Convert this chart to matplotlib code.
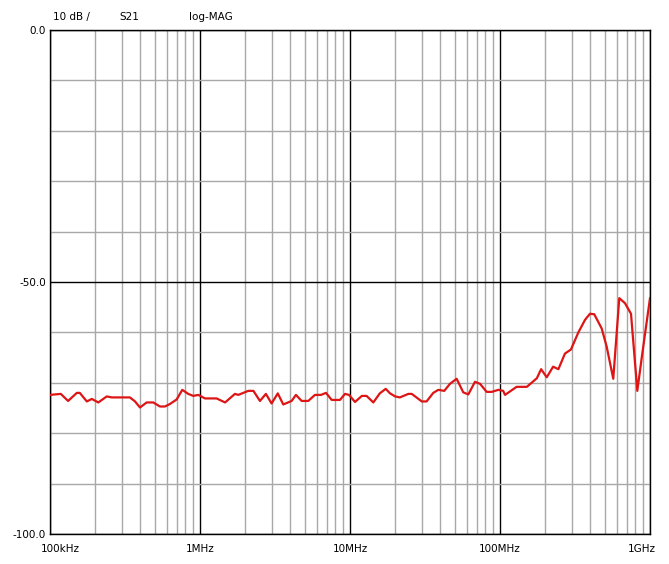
import numpy as np
import matplotlib.pyplot as plt
from matplotlib.ticker import FixedLocator, NullFormatter
import matplotlib.transforms as mtransforms

# S21 trace (frequency in MHz, magnitude in dB)
freq_mhz = [0.100, 0.118, 0.132, 0.151, 0.158, 0.176, 0.190, 0.210, 0.239, 0.258,
            0.341, 0.369, 0.398, 0.441, 0.488, 0.541, 0.584, 0.631, 0.699, 0.762,
            0.835, 0.902, 0.975, 1.08, 1.29, 1.47, 1.71, 1.80, 2.10, 2.27,
            2.51, 2.75, 3.00, 3.30, 3.59, 4.08, 4.36, 4.76, 5.27, 5.84,
            6.41, 6.92, 7.55, 8.58, 9.26, 9.85, 10.8, 12.0, 12.9, 14.3,
            15.8, 17.3, 18.5, 20.0, 21.5, 24.5, 25.8, 30.1, 32.4, 35.9,
            38.8, 42.5, 46.4, 51.4, 56.9, 61.5, 68.1, 73.6, 81.5, 88.1,
            97.5, 105, 108, 129, 151, 158, 176, 188, 205, 226,
            245, 271, 297, 333, 369, 398, 425, 476, 514, 569,
            624, 681, 747, 823, 880, 1000]
s21_db = [-72.4, -72.2, -73.6, -72.0, -72.0, -73.7, -73.2, -73.9, -72.7, -72.9,
          -72.9, -73.7, -74.9, -73.9, -73.9, -74.7, -74.7, -74.2, -73.3, -71.4,
          -72.2, -72.6, -72.4, -73.1, -73.1, -73.9, -72.2, -72.4, -71.6, -71.6,
          -73.6, -72.2, -74.1, -72.1, -74.3, -73.6, -72.4, -73.6, -73.6, -72.4,
          -72.4, -72.0, -73.4, -73.4, -72.2, -72.4, -73.8, -72.6, -72.6, -73.9,
          -72.1, -71.2, -72.1, -72.7, -72.9, -72.2, -72.2, -73.7, -73.7, -72.0,
          -71.4, -71.6, -70.2, -69.2, -71.9, -72.3, -69.8, -70.2, -71.8, -71.8,
          -71.4, -71.6, -72.4, -70.8, -70.8, -70.3, -69.1, -67.3, -68.9, -66.8,
          -67.3, -64.2, -63.4, -60.0, -57.5, -56.3, -56.4, -59.2, -62.8, -69.2,
          -53.2, -54.2, -56.3, -71.6, -65.1, -53.2]

x_ticks = [1e5, 1e6, 1e7, 1e8, 1e9]
x_labels = ['100kHz', '1MHz', '10MHz', '100MHz', '1GHz']
y_ticks = [0, -50, -100]
y_labels = ['0.0', '-50.0', '-100.0']

freq_hz = np.array(freq_mhz) * 1e6

fig = plt.figure(figsize=(6.69, 5.64), dpi=100)
ax = fig.add_axes([50 / 669, 30 / 564, 600 / 669, 504 / 564])

ax.plot(freq_hz, s21_db, color='#dd1515', linewidth=1.6, zorder=3)

ax.set_xscale('log')
ax.set_xlim(1e5, 1e9)
ax.set_ylim(-100, 0)

minor_x = [m * 10.0 ** e for e in range(5, 9) for m in range(2, 10)]
ax.xaxis.set_major_locator(FixedLocator(x_ticks))
ax.xaxis.set_minor_locator(FixedLocator(minor_x))
ax.xaxis.set_minor_formatter(NullFormatter())
ax.set_xticks(x_ticks, x_labels)
ax.set_yticks(y_ticks, y_labels)
ax.yaxis.set_minor_locator(FixedLocator(list(range(-90, 0, 10))))

ax.grid(which='minor', color='#a8a8a8', linewidth=1.0)
ax.grid(which='major', color='black', linewidth=1.0)
ax.set_axisbelow(True)

ax.tick_params(which='both', length=0, labelsize=7.5, colors='black')
ax.tick_params(axis='x', pad=7)
ax.tick_params(axis='y', pad=3)

xl = ax.get_xticklabels()
xl[0].set_transform(xl[0].get_transform() + mtransforms.ScaledTranslation(0.10, 0, fig.dpi_scale_trans))
xl[-1].set_transform(xl[-1].get_transform() + mtransforms.ScaledTranslation(-0.08, 0, fig.dpi_scale_trans))

for spine in ax.spines.values():
    spine.set_color('black')
    spine.set_linewidth(1.0)

fig.text(53 / 669, 1 - 17 / 564, '10 dB /', fontsize=7.5, va='center', ha='left')
fig.text(119 / 669, 1 - 17 / 564, 'S21', fontsize=7.5, va='center', ha='left')
fig.text(189 / 669, 1 - 17 / 564, 'log-MAG', fontsize=7.5, va='center', ha='left')

fig.savefig('out.png', dpi=100)
